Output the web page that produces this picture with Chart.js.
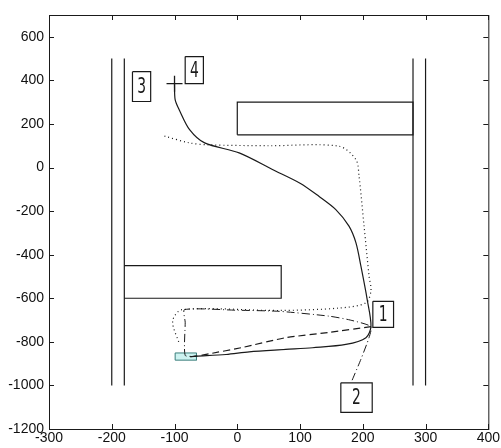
<!DOCTYPE html>
<html>
<head>
<meta charset="UTF-8">
<title>Trajectories</title>
<script src="https://cdn.jsdelivr.net/npm/chart.js"></script>
<style>
  html, body { margin: 0; padding: 0; background: #fff; }
  #wrap { width: 501px; height: 448px; }
</style>
</head>
<body>
<div id="wrap"><canvas id="chart"></canvas></div>
<script>
// axis ticks
const xTicks = [-300, -200, -100, 0, 100, 200, 300, 400];
const yTicks = [-1200, -1000, -800, -600, -400, -200, 0, 200, 400, 600];

// walls and obstacles
const wallLeftOuter = [[-200, 500], [-200, -1000]];
const wallLeftInner = [[-180, 500], [-180, -1000]];
const wallRightInner = [[280, 500], [280, -1000]];
const wallRightOuter = [[300, 500], [300, -1000]];
const upperBlock = [[0, 150], [280, 150], [280, 300], [0, 300], [0, 150]];
const lowerBlock = [[-180, -450], [70, -450], [70, -600], [-180, -600]];
const goalBox = [[-99, -851], [-65, -851], [-65, -884], [-99, -884], [-99, -851]];
const startMark = [[-100, 385]];

// trajectories
const pathSolid = [[-100, 385], [-99, 312], [-92, 262], [-76, 174], [-52, 113], [3, 67], [56, -9],
  [100, -72], [130, -132], [157, -193], [178, -269], [189, -345], [197, -453], [207, -606],
  [213, -728], [205, -781], [173, -812], [120, -827], [77, -835], [19, -846], [-18, -858],
  [-66, -866], [-75, -868]];
const pathDotted = [[-116, 144], [-76, 113], [-45, 104], [50, 100], [162, 98], [189, 37], [194, -40],
  [202, -269], [210, -499], [213, -565], [205, -621], [162, -645], [67, -656], [-88, -652],
  [-103, -705], [-92, -812]];
const pathDashed = [[213, -730], [146, -757], [77, -781], [8, -826], [-45, -855], [-66, -866], [-76, -868]];
const pathDashDot = [[183, -976], [197, -880], [210, -780], [213, -730], [180, -700], [146, -682],
  [67, -660], [0, -655], [-84, -652], [-83, -710], [-83, -862], [-65, -866]];

// numbered labels: box corners and text
const labelNames = ['1', '2', '3', '4'];
const labelBoxes = [[216, -614, 249, -734], [165, -988, 215, -1124], [-167, 440, -138, 303], [-83, 509, -54, 385]];

const pts = a => a.map(p => ({ x: p[0], y: p[1] }));
const rect = b => pts([[b[0], b[1]], [b[2], b[1]], [b[2], b[3]], [b[0], b[3]], [b[0], b[1]]]);
const ink = '#1a1a1a';

function lineSet(data, dash, width, tension) {
  return { data: pts(data), showLine: true, borderColor: ink, borderWidth: width,
    borderDash: dash, pointRadius: 0, tension: tension, fill: false };
}

const datasets = [
  lineSet(wallLeftOuter, [], 1.2, 0),
  lineSet(wallLeftInner, [], 1.2, 0),
  lineSet(wallRightInner, [], 1.2, 0),
  lineSet(wallRightOuter, [], 1.2, 0),
  lineSet(upperBlock, [], 1.2, 0),
  lineSet(lowerBlock, [], 1.2, 0),
  lineSet(pathDotted, [1, 3], 1.2, 0.3),
  lineSet(pathDashed, [7, 4], 1.2, 0.2),
  lineSet(pathDashDot, [8, 3, 1, 3], 1, 0.2),
  lineSet(pathSolid, [], 1.2, 0.3),
  { data: pts(goalBox), showLine: true, borderColor: '#3b7f7c', borderWidth: 1, pointRadius: 0,
    fill: 'shape', backgroundColor: '#cdf3f1', tension: 0 },
  { data: pts(startMark), showLine: false, pointStyle: 'cross', pointRadius: 8,
    borderColor: ink, borderWidth: 1.3 }
];
labelBoxes.forEach(b => datasets.push({ data: rect(b), showLine: true, borderColor: ink,
  borderWidth: 1.2, pointRadius: 0, tension: 0, fill: false }));

// frame, inward ticks and box numbers
const framePlugin = {
  id: 'frame',
  afterDraw(chart) {
    const { ctx, chartArea: a, scales: { x, y } } = chart;
    ctx.save();
    ctx.strokeStyle = ink;
    ctx.lineWidth = 1;
    ctx.strokeRect(a.left + 0.5, a.top + 0.5, a.right - a.left, a.bottom - a.top);
    ctx.beginPath();
    xTicks.forEach(v => {
      const px = Math.round(x.getPixelForValue(v)) + 0.5;
      ctx.moveTo(px, a.bottom); ctx.lineTo(px, a.bottom - 5);
      ctx.moveTo(px, a.top); ctx.lineTo(px, a.top + 5);
    });
    yTicks.forEach(v => {
      const py = Math.round(y.getPixelForValue(v)) + 0.5;
      ctx.moveTo(a.left, py); ctx.lineTo(a.left + 5, py);
      ctx.moveTo(a.right, py); ctx.lineTo(a.right - 5, py);
    });
    ctx.stroke();

    ctx.fillStyle = ink;
    ctx.textAlign = 'center';
    ctx.textBaseline = 'middle';
    ctx.font = '22px "Liberation Sans Narrow", "DejaVu Sans Condensed", sans-serif';
    labelBoxes.forEach((b, i) => {
      const cx = x.getPixelForValue((b[0] + b[2]) / 2);
      const cy = y.getPixelForValue((b[1] + b[3]) / 2);
      ctx.save();
      ctx.translate(cx, cy + 1);
      ctx.scale(0.7, 1);
      ctx.fillText(labelNames[i], 0, 0);
      ctx.restore();
    });
    ctx.restore();
  }
};

const plainTick = v => String(v);

new Chart(document.getElementById('chart'), {
  type: 'scatter',
  data: { datasets: datasets },
  options: {
    responsive: true,
    maintainAspectRatio: false,
    animation: false,
    layout: { padding: { top: 15, right: 12, left: 0, bottom: 0 } },
    plugins: { legend: { display: false }, tooltip: { enabled: false } },
    scales: {
      x: {
        type: 'linear', min: -300, max: 400,
        afterBuildTicks: s => { s.ticks = xTicks.map(v => ({ value: v })); },
        afterFit: s => { s.height = 19; },
        grid: { display: false, drawTicks: false },
        border: { display: false },
        ticks: { padding: 1, color: '#111', callback: plainTick,
          font: { family: 'Liberation Sans', size: 14 }, maxRotation: 0 }
      },
      y: {
        type: 'linear', min: -1200, max: 700,
        afterBuildTicks: s => { s.ticks = yTicks.map(v => ({ value: v })); },
        afterFit: s => { s.width = 49; },
        grid: { display: false, drawTicks: false },
        border: { display: false },
        ticks: { padding: 5, color: '#111', callback: plainTick,
          font: { family: 'Liberation Sans', size: 14 } }
      }
    }
  },
  plugins: [framePlugin]
});
</script>
</body>
</html>
